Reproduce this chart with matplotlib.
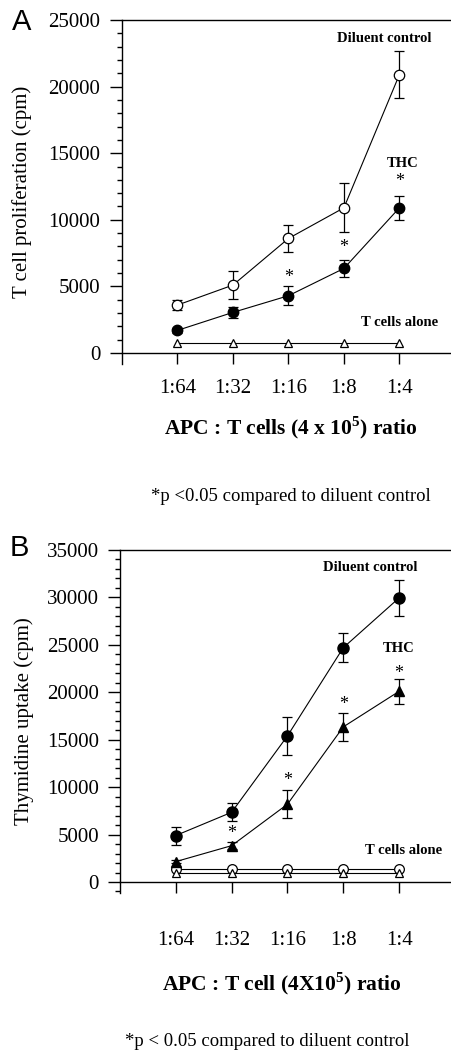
import numpy as np
import matplotlib.pyplot as plt
from matplotlib.ticker import MultipleLocator

plt.rcParams['font.family'] = 'Liberation Serif'
plt.rcParams['mathtext.fontset'] = 'custom'
plt.rcParams['mathtext.rm'] = 'Liberation Serif'
plt.rcParams['mathtext.bf'] = 'Liberation Serif:bold'

ratios = ['1:64', '1:32', '1:16', '1:8', '1:4']
xpos = np.arange(1, 6)

# Panel A values (cpm)
a_diluent = [3600, 5100, 8600, 10900, 20900]
a_diluent_err = [400, 1050, 1000, 1850, 1750]
a_thc = [1700, 3050, 4300, 6350, 10900]
a_thc_err = [200, 400, 700, 650, 900]
a_tcells = [780, 780, 780, 780, 780]
a_star_x = [3, 4, 5, 5]
a_star_y = [5700, 7900, 12850, 10400]

# Panel B values (cpm)
b_diluent = [4900, 7350, 15400, 24700, 29950]
b_diluent_err = [950, 950, 2000, 1550, 1900]
b_thc = [2150, 3830, 8200, 16350, 20100]
b_thc_err = [200, 370, 1480, 1450, 1330]
b_tcells_circ = [1350, 1350, 1350, 1350, 1350]
b_tcells_tri = [980, 980, 980, 980, 980]
b_star_x = [2, 3, 4, 5]
b_star_y = [5150, 10700, 18700, 22000]

W, H = 451, 1053
fig = plt.figure(figsize=(W / 100, H / 100), dpi=100)


def style_axes(ax, ymax, ybottom, major, xpad, ypad):
    ax.spines['right'].set_visible(False)
    ax.spines['bottom'].set_position(('data', 0))
    for s in ax.spines.values():
        s.set_linewidth(1.0)
    ax.set_xlim(0, 5.93)
    ax.set_ylim(ybottom, ymax)
    ax.yaxis.set_major_locator(MultipleLocator(major))
    ax.yaxis.set_minor_locator(MultipleLocator(1000))
    ax.set_yticks(np.arange(0, ymax + 1, major))
    ax.set_xticks(xpos)
    ax.set_xticklabels(ratios)
    ax.tick_params(axis='y', which='major', direction='out', length=8.6, width=1,
                   labelsize=15, pad=ypad)
    ax.tick_params(axis='y', which='minor', direction='out', length=3.6, width=1)
    ax.tick_params(axis='x', direction='out', length=8, width=1, labelsize=15, pad=xpad)
    ax.tick_params(top=False, right=False)


open_kw = dict(color='black', lw=0.8, mfc='white', mec='black', mew=0.9)
fill_kw = dict(color='black', lw=0.8, mfc='black', mec='black')
err_kw = dict(ecolor='black', elinewidth=0.9, capsize=3.5, capthick=0.9)
lab_kw = dict(fontsize=10.5, fontweight='bold', ha='center', va='center')

# ---- Panel A ----
axA = fig.add_axes([122 / W, 1 - 364 / H, 1 - 122 / W, 344 / H])
style_axes(axA, 25000, -825, 5000, xpad=11, ypad=7)
axA.errorbar(xpos, a_diluent, yerr=a_diluent_err, marker='o', ms=7.5, **open_kw, **err_kw)
axA.errorbar(xpos, a_thc, yerr=a_thc_err, marker='o', ms=7.5, **fill_kw, **err_kw)
axA.plot(xpos, a_tcells, marker='^', ms=6, **open_kw)
for x, y in zip(a_star_x, a_star_y):
    axA.text(x, y, '*', fontsize=13, ha='center', va='center')
axA.text(4.72, 23600, 'Diluent control', **lab_kw)
axA.text(5.06, 14200, 'THC', **lab_kw)
axA.text(5.0, 2300, 'T cells alone', **lab_kw)
axA.set_ylabel('T cell proliferation (cpm)', fontsize=15, labelpad=12)

fig.text(12 / W, 1 - 22 / H, 'A', family='Liberation Sans', fontsize=21,
         ha='left', va='center')
fig.text(291 / W, 1 - 428 / H, r'APC : T cells (4 x 10$^{\mathbf{5}}$) ratio',
         fontsize=15.5, fontweight='bold', ha='center', va='center')
fig.text(291 / W, 1 - 497 / H, '*p <0.05 compared to diluent control',
         fontsize=13.5, ha='center', va='center')

# ---- Panel B ----
axB = fig.add_axes([120 / W, 1 - 893 / H, 1 - 120 / W, 343 / H])
style_axes(axB, 35000, -1160, 5000, xpad=27, ypad=6.5)
axB.errorbar(xpos, b_diluent, yerr=b_diluent_err, marker='o', ms=8, **fill_kw, **err_kw)
axB.errorbar(xpos, b_thc, yerr=b_thc_err, marker='^', ms=7.5, **fill_kw, **err_kw)
axB.plot(xpos, b_tcells_circ, marker='o', ms=7, **open_kw)
axB.plot(xpos, b_tcells_tri, marker='^', ms=6, **open_kw)
for x, y in zip(b_star_x, b_star_y):
    axB.text(x, y, '*', fontsize=13, ha='center', va='center')
axB.text(4.49, 33200, 'Diluent control', **lab_kw)
axB.text(4.99, 24650, 'THC', **lab_kw)
axB.text(5.08, 3370, 'T cells alone', **lab_kw)
axB.set_ylabel('Thymidine uptake (cpm)', fontsize=15, labelpad=9)

fig.text(10 / W, 1 - 548 / H, 'B', family='Liberation Sans', fontsize=21,
         ha='left', va='center')
fig.text(282 / W, 1 - 984 / H, r'APC : T cell (4X10$^{\mathbf{5}}$) ratio',
         fontsize=15.5, fontweight='bold', ha='center', va='center')
fig.text(267 / W, 1 - 1042 / H, '*p < 0.05 compared to diluent control',
         fontsize=13.5, ha='center', va='center')

fig.savefig('out.png', dpi=100)
